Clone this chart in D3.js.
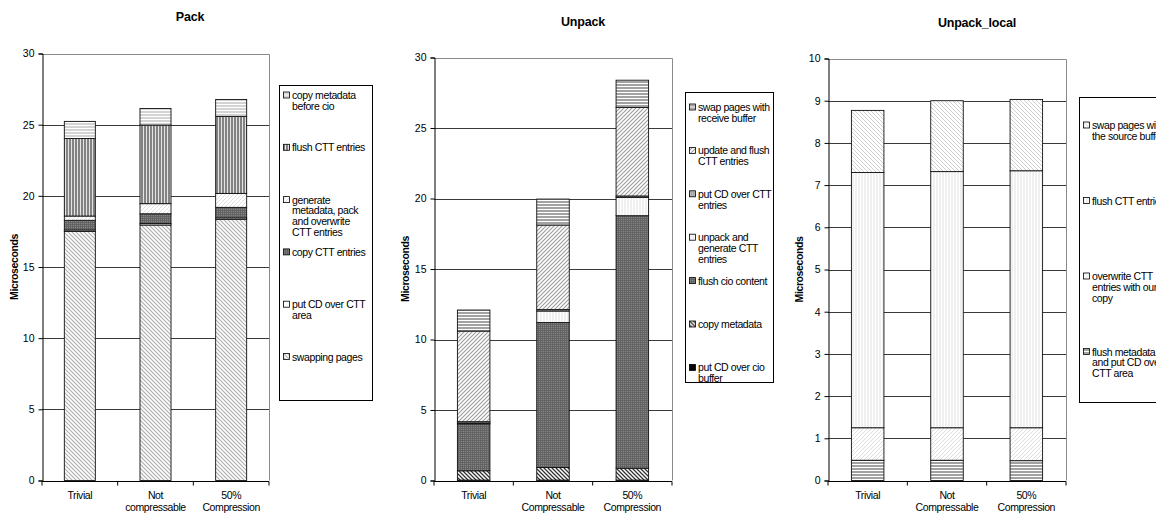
<!DOCTYPE html>
<html>
<head>
<meta charset="utf-8">
<script src="https://cdn.jsdelivr.net/npm/d3@7"></script>
<style>
  body { margin: 0; background: #fff; }
  svg { font-family: "Liberation Sans", Arial, sans-serif; }
</style>
</head>
<body>
<svg id="chart" width="1156" height="513"></svg>
<script>
// ---- data ----
var categories = ["Trivial", "Not\ncompressable", "50%\nCompression"];
var categories2 = ["Trivial", "Not\nCompressable", "50%\nCompression"];

// stacked bottom -> top
var packSeries = ["swapping pages", "put CD over CTT\narea", "copy CTT entries",
                  "generate\nmetadata, pack\nand overwrite\nCTT entries", "flush CTT entries",
                  "copy metadata\nbefore cio"];
var packValues = [
  [17.5, 17.95, 18.35],
  [0.1, 0.1, 0.1],
  [0.68, 0.69, 0.74],
  [0.3, 0.71, 0.98],
  [5.45, 5.52, 5.41],
  [1.2, 1.17, 1.19]
];
var packTicks = [0, 5, 10, 15, 20, 25, 30];

var unpackSeries = ["put CD over cio\nbuffer", "copy metadata", "flush cio content",
                    "unpack and\ngenerate CTT\nentries", "put CD over CTT\nentries",
                    "update and flush\nCTT entries", "swap pages with\nreceive buffer"];
var unpackValues = [
  [0.03, 0.03, 0.03],
  [0.66, 0.89, 0.84],
  [3.33, 10.28, 17.91],
  [0.05, 0.82, 1.3],
  [0.1, 0.1, 0.1],
  [6.43, 6.0, 6.28],
  [1.49, 1.84, 1.93]
];
var unpackTicks = [0, 5, 10, 15, 20, 25, 30];

var localSeries = ["flush metadata\nand put CD over\nCTT area", "overwrite CTT\nentries with our\ncopy",
                   "flush CTT entries", "swap pages with\nthe source buffer"];
var localValues = [
  [0.48, 0.48, 0.47],
  [0.77, 0.77, 0.78],
  [6.05, 6.07, 6.09],
  [1.47, 1.68, 1.69]
];
var localTicks = [0, 1, 2, 3, 4, 5, 6, 7, 8, 9, 10];

const svg = d3.select("#chart");
const defs = svg.append("defs");

// fill patterns, excel style
function hatch(id, bg, color, d, size, sw) {
  var p = defs.append("pattern").attr("id", id)
    .attr("patternUnits", "userSpaceOnUse")
    .attr("width", size).attr("height", size);
  p.append("rect").attr("width", size).attr("height", size).attr("fill", bg);
  p.append("path").attr("d", d).attr("stroke", color).attr("stroke-width", sw).attr("fill", "none");
}
var back = "M-1,-1L5,5M-1,3L1,5M3,-1L5,1";   // "\\\\"
var fwd = "M-1,5L5,-1M-1,1L1,-1M3,5L5,3";    // "////"
hatch("p_back_light", "#fff", "#b0b0b0", back, 4, 1.2);
hatch("p_back_faint", "#fff", "#cfcfcf", back, 4, 1);
hatch("p_back_dark", "#fff", "#333", back, 4, 1.3);
hatch("p_fwd_mid", "#fff", "#a0a0a0", fwd, 4, 1.2);
hatch("p_fwd_faint", "#fff", "#dedede", fwd, 4, 1);
hatch("p_vert_dark", "#e4e4e4", "#222", "M1,0V3", 3, 1);
hatch("p_vert_faint", "#fff", "#e2e2e2", "M1,0V3", 3, 1);
hatch("p_horiz_light", "#fff", "#a8a8a8", "M0,1H3", 3, 1);
hatch("p_horiz_dark", "#fff", "#555", "M0,1H3", 3, 1.1);
hatch("p_cross", "#858585", "#5a5a5a", "M0,0.5H2M0.5,0V2", 2, 0.7);
hatch("p_dots", "#b8b8b8", "#888", "M0,0.5H1", 2, 0.8);

var packFills = ["url(#p_back_light)", "#fff", "url(#p_cross)", "url(#p_fwd_faint)", "url(#p_vert_dark)", "url(#p_horiz_light)"];
var unpackFills = ["#000", "url(#p_back_dark)", "url(#p_cross)", "url(#p_vert_faint)", "url(#p_dots)", "url(#p_fwd_mid)", "url(#p_horiz_dark)"];
var localFills = ["url(#p_horiz_dark)", "url(#p_fwd_faint)", "url(#p_vert_faint)", "url(#p_back_faint)"];

function multiline(sel, text, lh) {
  text.split("\n").forEach(function(t, i) {
    sel.append("tspan").attr("x", sel.attr("x")).attr("dy", i == 0 ? 0 : lh).text(t);
  });
}

function drawChart(opt) {
  var g = svg.append("g");
  var n = opt.cats.length;

  var x = d3.scaleBand().domain(d3.range(n))
    .range([opt.left, opt.right]).paddingInner(0.59).paddingOuter(0.295);
  var y = d3.scaleLinear().domain([0, opt.max]).range([opt.bottom, opt.top]);

  // table for d3.stack
  var keys = opt.series.map((s, i) => i);
  var table = d3.range(n).map(function(c) {
    var row = { cat: c };
    keys.forEach(k => row[k] = opt.values[k][c]);
    return row;
  });
  var stacked = d3.stack().keys(keys)(table);

  // gridlines
  g.append("g").selectAll("line")
    .data(opt.ticks.filter(t => t > 0 && t < opt.max))
    .join("line")
      .attr("x1", opt.left).attr("x2", opt.right)
      .attr("y1", d => Math.round(y(d)) + 0.5).attr("y2", d => Math.round(y(d)) + 0.5)
      .attr("stroke", "#3a3a3a").attr("stroke-width", 1);

  // plot border (top + right)
  g.append("path")
    .attr("d", `M${opt.left},${Math.round(y(opt.max)) + 0.5}H${Math.round(opt.right) + 0.5}V${opt.bottom}`)
    .attr("fill", "none").attr("stroke", "#8a8a8a");

  // bars
  g.append("g").selectAll("g")
    .data(stacked)
    .join("g")
      .attr("fill", (d, i) => opt.fills[i])
    .selectAll("rect")
    .data(d => d)
    .join("rect")
      .attr("x", d => x(d.data.cat))
      .attr("width", x.bandwidth())
      .attr("y", d => y(d[1]))
      .attr("height", d => y(d[0]) - y(d[1]))
      .attr("stroke", "#111")
      .attr("stroke-width", 0.9);

  // y axis
  var ya = g.append("g")
    .attr("transform", `translate(${Math.round(opt.left) + 0.5},0)`)
    .call(d3.axisLeft(y).tickValues(opt.ticks).tickSize(4).tickPadding(4).tickFormat(d3.format("d")));
  ya.select(".domain").attr("stroke", "#000");
  ya.selectAll(".tick line").attr("stroke", "#000");
  ya.selectAll("text").attr("font-size", 10.5).attr("fill", "#000")
    .attr("font-family", "'Liberation Sans', Arial, sans-serif");

  // x axis with ticks at category boundaries
  var step = (opt.right - opt.left) / n;
  var xb = Math.round(opt.bottom) + 0.5;
  g.append("line").attr("x1", opt.left).attr("x2", opt.right)
    .attr("y1", xb).attr("y2", xb).attr("stroke", "#000");
  g.append("g").selectAll("line")
    .data(d3.range(n + 1))
    .join("line")
      .attr("x1", d => opt.left + d * step).attr("x2", d => opt.left + d * step)
      .attr("y1", xb).attr("y2", xb + 4).attr("stroke", "#000");
  g.append("g").selectAll("text")
    .data(opt.cats)
    .join("text")
      .attr("x", (d, i) => x(i) + x.bandwidth() / 2)
      .attr("y", opt.bottom + 18)
      .attr("text-anchor", "middle")
      .attr("font-size", 10.5)
      .attr("letter-spacing", -0.4)
      .each(function(d) { multiline(d3.select(this), d, 12); });

  // title
  g.append("text")
    .attr("x", opt.titleX).attr("y", opt.titleY)
    .attr("text-anchor", "middle")
    .attr("font-weight", "bold").attr("font-size", 12.5)
    .attr("letter-spacing", -0.2)
    .text(opt.title);

  // y label
  g.append("text")
    .attr("transform", `translate(${opt.ylabX},${(opt.top + opt.bottom) / 2}) rotate(-90)`)
    .attr("text-anchor", "middle")
    .attr("font-weight", "bold").attr("font-size", 10.5)
    .attr("letter-spacing", -0.4)
    .text("Microseconds");

  // legend
  var lg = g.append("g");
  lg.append("rect")
    .attr("x", opt.leg.x + 0.5).attr("y", opt.leg.y + 0.5)
    .attr("width", opt.leg.w).attr("height", opt.leg.h)
    .attr("fill", "#fff").attr("stroke", "#000");
  var items = lg.selectAll("g")
    .data(opt.series.map((s, i) => i).reverse())
    .join("g")
      .attr("transform", (d, j) => `translate(${opt.leg.x + 4},${opt.leg.first + j * opt.leg.gap})`);
  items.append("rect")
    .attr("x", 0.5).attr("y", -3.5).attr("width", 6).attr("height", 6)
    .attr("fill", d => opt.fills[d]).attr("stroke", "#000").attr("stroke-width", 0.8);
  items.append("text")
    .attr("x", 9).attr("y", 3.5)
    .attr("font-size", 10.5)
    .attr("letter-spacing", -0.4)
    .each(function(d) { multiline(d3.select(this), opt.series[d], 10.8); });
}

drawChart({
  title: "Pack", titleX: 190, titleY: 21,
  cats: categories, series: packSeries, values: packValues, fills: packFills,
  ticks: packTicks, max: 30,
  left: 42, right: 269, top: 53.5, bottom: 480.5, ylabX: 18,
  leg: { x: 279, y: 85, w: 93, h: 315, first: 95.5, gap: 52.3 }
});

drawChart({
  title: "Unpack", titleX: 583, titleY: 26,
  cats: categories2, series: unpackSeries, values: unpackValues, fills: unpackFills,
  ticks: unpackTicks, max: 30,
  left: 434, right: 672, top: 57.5, bottom: 480.5, ylabX: 409,
  leg: { x: 685, y: 92, w: 88, h: 290, first: 107.5, gap: 43.4 }
});

drawChart({
  title: "Unpack_local", titleX: 977, titleY: 27,
  cats: categories2, series: localSeries, values: localValues, fills: localFills,
  ticks: localTicks, max: 10,
  left: 828, right: 1066, top: 58.5, bottom: 480.5, ylabX: 803,
  leg: { x: 1079, y: 97, w: 100, h: 305, first: 125.5, gap: 75.5 }
});
</script>
</body>
</html>
